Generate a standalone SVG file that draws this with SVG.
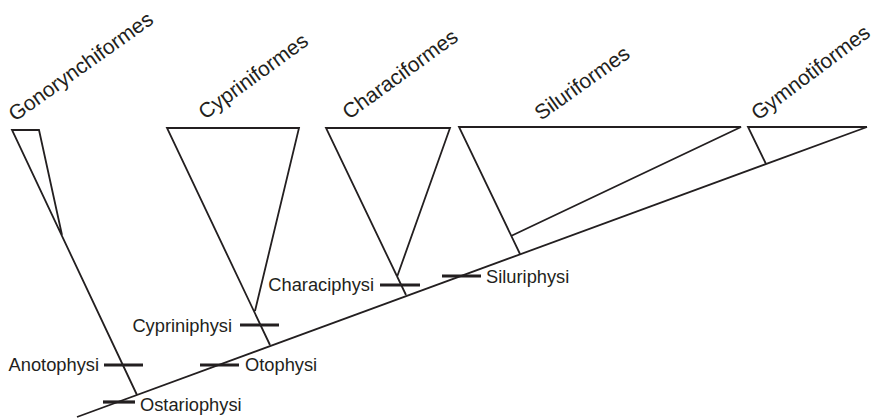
<svg xmlns="http://www.w3.org/2000/svg" width="881" height="418" viewBox="0 0 881 418">
<style>
.ln{stroke:#231f20;stroke-width:1.8;fill:none;stroke-linejoin:miter}
.bar{stroke:#231f20;stroke-width:3.2}
.lbl{font-family:"Liberation Sans",Arial,sans-serif;font-size:18.3px;fill:#231f20}
.rl{font-family:"Liberation Sans",Arial,sans-serif;font-size:21px;fill:#231f20}
</style>
<rect width="881" height="418" fill="#fff"/>
<g id="connectors">
<path class="ln" d="M77,417 L867,127"/>
<path class="bar" d="M103,402 H135"/>
<path class="bar" d="M104,365 H143"/>
<path class="bar" d="M200,365 H239"/>
<path class="bar" d="M240,325 H279"/>
<path class="bar" d="M380,285 H420"/>
<path class="bar" d="M442,276 H481"/>
</g>
<g id="gonorynchiformes">
<path class="ln" d="M137,395 L12,130 H39 L62,235"/>
<text class="rl" transform="translate(15,122) rotate(-35.5)">Gonorynchiformes</text>
</g>
<g id="cypriniformes">
<path class="ln" d="M270,345 L167,128 H299 L255,311"/>
<text class="rl" transform="translate(205,120) rotate(-36)">Cypriniformes</text>
</g>
<g id="characiformes">
<path class="ln" d="M406,295 L326,128 H450 L397,277"/>
<text class="rl" transform="translate(349,120) rotate(-36)">Characiformes</text>
</g>
<g id="siluriformes">
<path class="ln" d="M520,254 L459,127 H741 L511,236"/>
<text class="rl" transform="translate(541,121) rotate(-35.5)">Siluriformes</text>
</g>
<g id="gymnotiformes">
<path class="ln" d="M766,164 L748,127 H867"/>
<text class="rl" transform="translate(758,121) rotate(-37)">Gymnotiformes</text>
</g>
<g id="ostariophysi"><text class="lbl" x="140" y="411">Ostariophysi</text></g>
<g id="anotophysi"><text class="lbl" x="99" y="371" text-anchor="end">Anotophysi</text></g>
<g id="otophysi"><text class="lbl" x="245" y="371">Otophysi</text></g>
<g id="cypriniphysi"><text class="lbl" x="232" y="332" text-anchor="end">Cypriniphysi</text></g>
<g id="characiphysi"><text class="lbl" x="374" y="291" text-anchor="end">Characiphysi</text></g>
<g id="siluriphysi"><text class="lbl" x="486" y="283">Siluriphysi</text></g>
</svg>
